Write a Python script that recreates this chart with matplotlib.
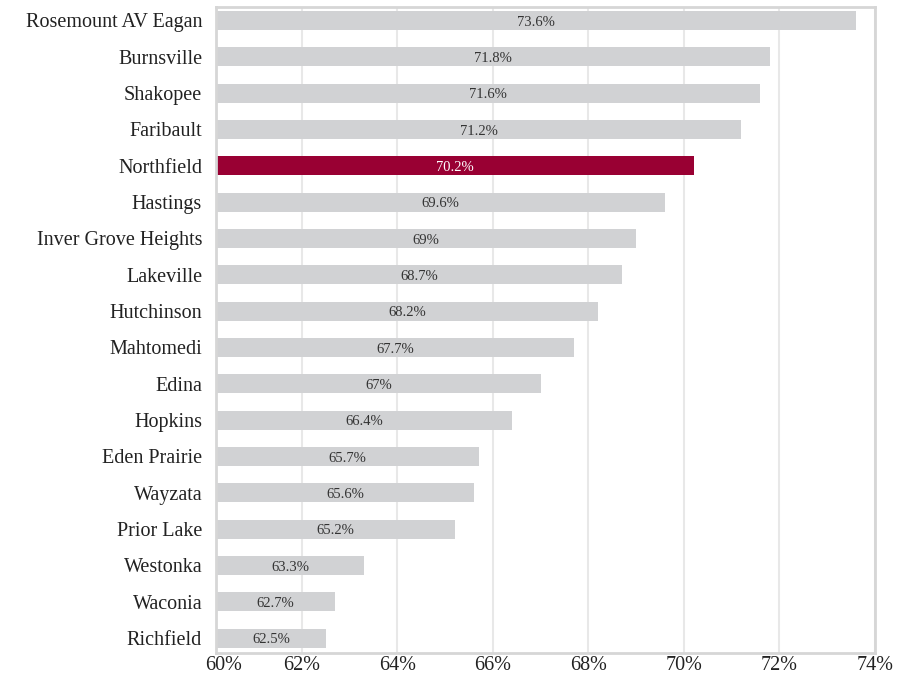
import matplotlib
matplotlib.use("Agg")
import matplotlib.pyplot as plt
import matplotlib.transforms as mtransforms

# districts top to bottom, as in the picture
districts = ["Rosemount AV Eagan", "Burnsville", "Shakopee", "Faribault", "Northfield",
             "Hastings", "Inver Grove Heights", "Lakeville", "Hutchinson", "Mahtomedi",
             "Edina", "Hopkins", "Eden Prairie", "Wayzata", "Prior Lake", "Westonka",
             "Waconia", "Richfield"]
values = [73.6, 71.8, 71.6, 71.2, 70.2, 69.6, 69.0, 68.7, 68.2, 67.7,
          67.0, 66.4, 65.7, 65.6, 65.2, 63.3, 62.7, 62.5]
value_labels = ["73.6%", "71.8%", "71.6%", "71.2%", "70.2%", "69.6%", "69%", "68.7%", "68.2%",
                "67.7%", "67%", "66.4%", "65.7%", "65.6%", "65.2%", "63.3%", "62.7%", "62.5%"]
highlight = "Northfield"
xticks = [62, 64, 66, 68, 70, 72, 74]
xtick_labels = ["62%", "64%", "66%", "68%", "70%", "72%", "74%"]

plt.rcParams['font.family'] = ['Liberation Serif', 'DejaVu Serif']

fig = plt.figure(figsize=(8.97, 6.75), dpi=100)
ax = fig.add_axes([216/897, 22/675, 659/897, 646/675])

x0 = 60.2
n = len(districts)
ypos = [n - 1 - i for i in range(n)]
colors = ["#990033" if d == highlight else "#d1d2d4" for d in districts]

ax.barh(ypos, [v - x0 for v in values], left=x0, height=0.52, color=colors, zorder=2)

for y, v, lab, d in zip(ypos, values, value_labels, districts):
    ax.text((x0 + v) / 2, y - 0.05, lab, ha='center', va='center', fontsize=10.5,
            color='white' if d == highlight else '#333333', zorder=3)

ax.set_xlim(x0, 74)
ax.set_ylim(-0.41, n - 1 + 0.37)
ax.set_yticks(ypos)
ax.set_yticklabels(districts, fontsize=14.5, color='#222222')
ax.set_xticks(xticks)
ax.set_xticklabels(xtick_labels, fontsize=14.5, color='#222222')
ax.tick_params(axis='y', length=0, pad=10)
ax.tick_params(axis='x', length=0, pad=2)

# 60% label sits at the left edge of the frame
trans = mtransforms.blended_transform_factory(ax.transData, ax.transAxes)
ax.text(60.35, -0.0043, "60%", transform=trans, ha='center', va='top', fontsize=14.5, color='#222222')

ax.grid(axis='x', color='#e8e8e8', linewidth=1.5, zorder=0)
ax.set_axisbelow(True)
for s in ax.spines.values():
    s.set_color('#d6d6d6')
    s.set_linewidth(2)

fig.savefig("out.png", dpi=100)
